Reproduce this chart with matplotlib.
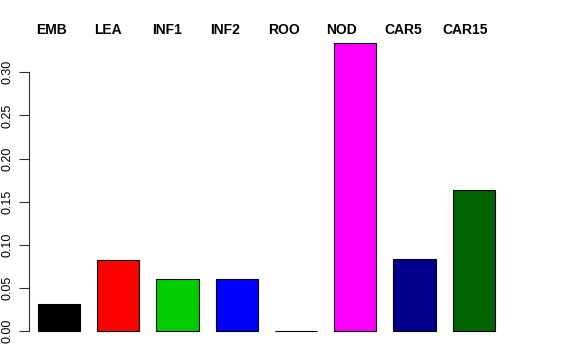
import numpy as np
import matplotlib.pyplot as plt

plt.rcParams['font.family'] = ['Liberation Sans', 'DejaVu Sans']

# data
categories = ['EMB', 'LEA', 'INF1', 'INF2', 'ROO', 'NOD', 'CAR5', 'CAR15']
values = [0.0317, 0.0820, 0.0607, 0.0600, 0.0005, 0.3337, 0.0839, 0.1632]
colors = ['black', 'red', '#00CD00', 'blue', 'cyan', 'magenta', '#00008B', '#006400']
yticks = [0.00, 0.05, 0.10, 0.15, 0.20, 0.25, 0.30]


def make_plot(filename):
    fig = plt.figure(figsize=(5.76, 3.6), dpi=100)
    # axes placed in pixel terms to mimic the R plot region
    ax = fig.add_axes([29 / 576, (360 - 342.5) / 360, (546 - 29) / 576, (342.5 - 31.8) / 360])

    x = np.arange(len(categories))
    ax.bar(x, values, width=0.71, color=colors, edgecolor='black', linewidth=0.8)

    ax.set_xlim(-0.507, 8.22)
    ax.set_ylim(-0.0134, 0.347)

    # category labels across the top
    for i, name in enumerate(categories):
        ax.text(i * 0.981 - 0.39, 0.349, name, ha='left', va='center',
                fontsize=10, fontweight='bold', transform=ax.transData, clip_on=False)

    for side in ['top', 'right', 'bottom']:
        ax.spines[side].set_visible(False)
    ax.spines['left'].set_bounds(0, 0.30)
    ax.spines['left'].set_color('#333333')
    ax.set_xticks([])
    ax.set_yticks(yticks)
    ax.set_yticklabels(['%.2f' % v for v in yticks], rotation=90, va='center', fontsize=9)
    ax.tick_params(axis='y', length=7, pad=4.5, color='#333333')

    fig.savefig(filename, dpi=100)


if __name__ == '__main__':
    make_plot('out.png')
